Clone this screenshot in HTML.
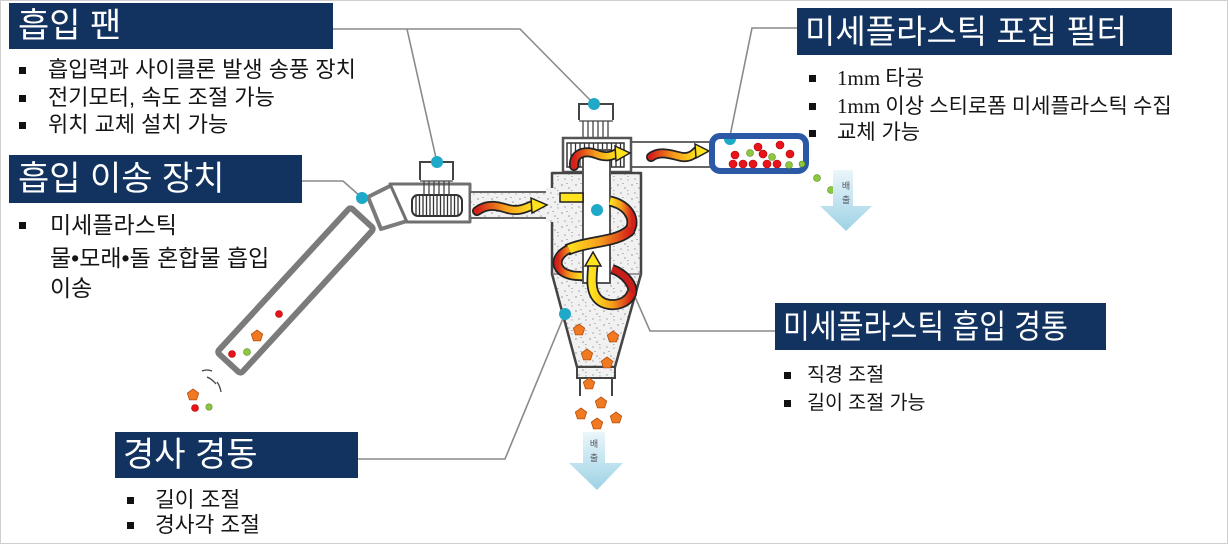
<!DOCTYPE html>
<html><head><meta charset="utf-8">
<style>
html,body{margin:0;padding:0;background:#fff;}
#c{position:relative;width:1228px;height:544px;overflow:hidden;background:#fff;font-family:"Liberation Sans","Noto Sans CJK KR",sans-serif;}
.box{position:absolute;background:#12335f;color:#fff;white-space:nowrap;display:flex;align-items:center;box-sizing:border-box;}
.box span{display:inline-block;line-height:1;}
.t{position:absolute;white-space:nowrap;color:#151515;}
.b{position:absolute;width:7px;height:7px;background:#111;}
</style></head><body><div id="c">
<svg width="1228" height="544" style="position:absolute;left:0;top:0" xmlns="http://www.w3.org/2000/svg">
<defs>
 <pattern id="sp" width="14" height="14" patternUnits="userSpaceOnUse">
  <rect width="14" height="14" fill="#f1f1f1"/>
  <circle cx="2" cy="3" r="0.9" fill="#a8a8a8"/>
  <circle cx="9" cy="6" r="0.8" fill="#999"/>
  <circle cx="5" cy="11" r="0.9" fill="#b5b5b5"/>
  <circle cx="12" cy="12" r="0.7" fill="#aaa"/>
  <rect x="6" y="1" width="2" height="1" fill="#bbb"/>
  <rect x="11" y="8" width="1.5" height="1" fill="#aaa"/>
 </pattern>
 <linearGradient id="ry" x1="0" y1="0" x2="1" y2="0"><stop offset="0" stop-color="#d41f1a"/><stop offset=".5" stop-color="#f59a1c"/><stop offset="1" stop-color="#ffe31c"/></linearGradient>
 <linearGradient id="yr" x1="0" y1="0" x2="1" y2="0"><stop offset="0" stop-color="#ffe31c"/><stop offset=".5" stop-color="#f5a01c"/><stop offset="1" stop-color="#d41f1a"/></linearGradient>
 <linearGradient id="blu" x1="0" y1="0" x2="0" y2="1"><stop offset="0" stop-color="#eaf6fa"/><stop offset="1" stop-color="#9dd2e5"/></linearGradient>
 <polygon id="pg" points="0,-6 5.7,-1.85 3.53,4.85 -3.53,4.85 -5.7,-1.85" fill="#f07a22" stroke="#b84d0c" stroke-width="0.8"/>
</defs>
<rect x="0.5" y="0.5" width="1227" height="543" fill="none" stroke="#cfcfcf" stroke-width="1"/>

<!-- connectors -->
<g stroke="#8a8a8a" stroke-width="1.6" fill="none">
 <polyline points="333,29 520,29 592,102"/>
 <line x1="407" y1="29" x2="436" y2="158"/>
 <polyline points="302,181 343,181 360,196"/>
 <polyline points="797,28 752,28 730,136"/>
 <polyline points="775,331 650,331 597,210"/>
 <polyline points="358,459 505,459 564,316"/>
</g>

<!-- suction tube -->
<rect x="-98.5" y="-16" width="197" height="32" rx="3" transform="translate(295.5,290.5) rotate(-47.4)" fill="#fff" stroke="#7b7b7b" stroke-width="6"/>
<!-- joint -->
<polygon points="368,197 392,185 407,221 381,229" fill="#fff" stroke="#7b7b7b" stroke-width="4" stroke-linejoin="round"/>
<!-- fan housing -->
<polygon points="390,184 470,184 470,222 407,222" fill="#fff" stroke="#707070" stroke-width="3" stroke-linejoin="round"/>
<rect x="412" y="195" width="50" height="21" rx="6" fill="#fff" stroke="#333" stroke-width="2"/>
<g stroke="#333" stroke-width="1.3">
 <line x1="416" y1="196" x2="416" y2="215"/><line x1="419.5" y1="196" x2="419.5" y2="215"/><line x1="423" y1="196" x2="423" y2="215"/><line x1="426.5" y1="196" x2="426.5" y2="215"/><line x1="430" y1="196" x2="430" y2="215"/><line x1="433.5" y1="196" x2="433.5" y2="215"/><line x1="437" y1="196" x2="437" y2="215"/><line x1="440.5" y1="196" x2="440.5" y2="215"/><line x1="444" y1="196" x2="444" y2="215"/><line x1="447.5" y1="196" x2="447.5" y2="215"/><line x1="451" y1="196" x2="451" y2="215"/><line x1="454.5" y1="196" x2="454.5" y2="215"/><line x1="458" y1="196" x2="458" y2="215"/>
</g>
<path d="M420,180 V162 H453 V180" fill="none" stroke="#444" stroke-width="2"/>
<g stroke="#444" stroke-width="1.3">
 <line x1="420" y1="181" x2="453" y2="181"/>
 <line x1="424" y1="181" x2="424" y2="195"/><line x1="429" y1="181" x2="429" y2="195"/><line x1="434" y1="181" x2="434" y2="195"/><line x1="439" y1="181" x2="439" y2="195"/><line x1="444" y1="181" x2="444" y2="195"/><line x1="449" y1="181" x2="449" y2="195"/>
</g>

<!-- pipe fan -> cyclone -->
<rect x="470" y="192" width="84" height="26" fill="url(#sp)" stroke="#666" stroke-width="2"/>

<!-- cyclone upper box & motor -->
<path d="M579,120 V104 H613 V120" fill="none" stroke="#444" stroke-width="2"/>
<g stroke="#444" stroke-width="1.3">
 <line x1="579" y1="121" x2="613" y2="121"/>
 <line x1="583" y1="121" x2="583" y2="138"/><line x1="588" y1="121" x2="588" y2="138"/><line x1="593" y1="121" x2="593" y2="138"/><line x1="598" y1="121" x2="598" y2="138"/><line x1="603" y1="121" x2="603" y2="138"/><line x1="608" y1="121" x2="608" y2="138"/>
</g>
<rect x="630" y="142" width="82" height="25" fill="#fff" stroke="#666" stroke-width="2"/>
<rect x="563" y="138" width="68" height="34" fill="#fff" stroke="#555" stroke-width="2.5"/>
<rect x="567" y="143" width="57" height="24" fill="#fff" stroke="#333" stroke-width="1.5"/>
<g stroke="#333" stroke-width="1.3">
 <line x1="571" y1="143" x2="571" y2="167"/><line x1="575.5" y1="143" x2="575.5" y2="167"/><line x1="580" y1="143" x2="580" y2="167"/><line x1="584.5" y1="143" x2="584.5" y2="167"/><line x1="589" y1="143" x2="589" y2="167"/><line x1="593.5" y1="143" x2="593.5" y2="167"/><line x1="598" y1="143" x2="598" y2="167"/><line x1="602.5" y1="143" x2="602.5" y2="167"/><line x1="607" y1="143" x2="607" y2="167"/><line x1="611.5" y1="143" x2="611.5" y2="167"/><line x1="616" y1="143" x2="616" y2="167"/><line x1="620.5" y1="143" x2="620.5" y2="167"/>
</g>

<!-- cyclone body -->
<path d="M552,173 H641 V274 L615,367 H577 L552,274 Z" fill="url(#sp)" stroke="#444" stroke-width="2.5" stroke-linejoin="round"/>
<line x1="552" y1="274" x2="641" y2="274" stroke="#666" stroke-width="1.2"/>
<rect x="577" y="367" width="38" height="11" fill="url(#sp)" stroke="#444" stroke-width="2"/>
<line x1="580" y1="378" x2="580" y2="396" stroke="#444" stroke-width="2"/>
<line x1="612" y1="378" x2="612" y2="396" stroke="#444" stroke-width="2"/>
<!-- notch at inlet -->
<rect x="546" y="188" width="8" height="34" fill="url(#sp)" stroke="none"/>
<rect x="583" y="150" width="27" height="133" fill="#fff" stroke="#555" stroke-width="2"/>

<!-- flow arrows -->
<g fill="none" stroke-linecap="round">
 <path d="M477,211 C488,203 498,206 508,209 C518,212 526,208 533,205" stroke="#222" stroke-width="10"/>
 <path d="M477,211 C488,203 498,206 508,209 C518,212 526,208 533,205" stroke="url(#ry)" stroke-width="6.5"/>
 <path d="M574,166 C573,153 585,150 596,154 C606,158 612,156 617,153" stroke="#222" stroke-width="10"/>
 <path d="M574,166 C573,153 585,150 596,154 C606,158 612,156 617,153" stroke="url(#ry)" stroke-width="6.5"/>
 <path d="M651,157 C660,150 672,155 682,157 C690,158 694,154 697,151" stroke="#222" stroke-width="10"/>
 <path d="M651,157 C660,150 672,155 682,157 C690,158 694,154 697,151" stroke="url(#ry)" stroke-width="6.5"/>
</g>
<polygon points="531,198 547,205 532,213" fill="#ffe31c" stroke="#222" stroke-width="1.5"/>
<polygon points="615,146 630,153 616,161" fill="#ffe31c" stroke="#222" stroke-width="1.5"/>
<polygon points="695,144 709,151 696,158" fill="#ffe31c" stroke="#222" stroke-width="1.5"/>

<!-- spiral -->
<g fill="none" stroke-linecap="butt">
 <rect x="560" y="193" width="23" height="9" fill="#ffe31c" stroke="#222" stroke-width="1.5"/>
 <path d="M610,201 C628,205 638,220 628,233" stroke="#222" stroke-width="11"/>
 <path d="M610,201 C628,205 638,220 628,233" stroke="url(#yr)" stroke-width="7.5"/>
 <path d="M631,229 C618,243 590,240 567,250" stroke="#222" stroke-width="12"/>
 <path d="M631,229 C618,243 590,240 567,250" stroke="url(#yr)" stroke-width="8.5"/>
 <path d="M569,249 C550,258 555,277 582,276" stroke="#222" stroke-width="10"/>
 <path d="M569,249 C550,258 555,277 582,276" stroke="url(#ry)" stroke-width="6.5"/>
 <path d="M612,269 C626,274 634,286 632,293" stroke="#222" stroke-width="10"/>
 <path d="M612,269 C626,274 634,286 632,293" stroke="#c81e1a" stroke-width="6.5"/>
 <path d="M632,292 C628,306 606,309 597,298 C590,290 592,276 593,264" stroke="#222" stroke-width="11"/>
 <path d="M632,292 C628,306 606,309 597,298 C590,290 592,276 593,264" stroke="url(#yr)" stroke-width="7.5"/>
</g>
<polygon points="585,266 593,252 601,266" fill="#ffe31c" stroke="#222" stroke-width="1.5"/>

<!-- filter -->
<rect x="712" y="136" width="94" height="35" rx="8" fill="#fff" stroke="#2b59a6" stroke-width="6"/>
<g stroke-width="0.6">
 <g fill="#e8141b" stroke="#a00">
  <circle cx="735" cy="155" r="4"/><circle cx="758" cy="147" r="4"/><circle cx="780" cy="145" r="4"/><circle cx="763" cy="154" r="4"/><circle cx="790" cy="154" r="4"/>
  <circle cx="733" cy="164" r="4"/><circle cx="743" cy="164" r="4"/><circle cx="753" cy="164" r="4"/><circle cx="767" cy="164" r="4"/><circle cx="777" cy="164" r="4"/>
 </g>
 <g fill="#8dc63f" stroke="#5a8a20">
  <circle cx="750" cy="153" r="3.5"/><circle cx="772" cy="157" r="3.5"/><circle cx="789" cy="165" r="3.5"/><circle cx="802" cy="164" r="3"/>
  <circle cx="817" cy="178" r="3.5"/><circle cx="831" cy="190" r="3.5"/>
 </g>
</g>

<!-- discharge arrows -->
<polygon points="833,170 853,170 853,206 872,206 846,231 820,206 833,206" fill="url(#blu)"/>
<text x="846" y="189" font-size="9" fill="#556" text-anchor="middle" font-family="Liberation Sans, Noto Sans CJK KR, sans-serif">배</text>
<text x="846" y="203" font-size="9" fill="#556" text-anchor="middle" font-family="Liberation Sans, Noto Sans CJK KR, sans-serif">출</text>
<polygon points="583,432 605,432 605,463 623,463 597,490 569,463 583,463" fill="url(#blu)"/>
<text x="594" y="447" font-size="9" fill="#556" text-anchor="middle" font-family="Liberation Sans, Noto Sans CJK KR, sans-serif">배</text>
<text x="594" y="461" font-size="9" fill="#556" text-anchor="middle" font-family="Liberation Sans, Noto Sans CJK KR, sans-serif">출</text>

<!-- cyclone pentagons -->
<use href="#pg" x="579" y="330"/><use href="#pg" x="613" y="337"/><use href="#pg" x="587" y="355"/><use href="#pg" x="607" y="363"/>
<use href="#pg" x="589" y="384"/><use href="#pg" x="601" y="403"/><use href="#pg" x="581" y="414"/><use href="#pg" x="616" y="418"/><use href="#pg" x="597" y="424"/>

<!-- tube particles -->
<g stroke-width="0.6">
 <circle cx="279" cy="314" r="3.5" fill="#e8141b" stroke="#a00"/>
 <circle cx="232" cy="354" r="3.5" fill="#e8141b" stroke="#a00"/>
 <circle cx="247" cy="352" r="3.5" fill="#8dc63f" stroke="#5a8a20"/>
 <circle cx="195" cy="408" r="3.5" fill="#e8141b" stroke="#a00"/>
 <circle cx="209" cy="407" r="3.2" fill="#8dc63f" stroke="#5a8a20"/>
</g>
<use href="#pg" x="257" y="336"/><use href="#pg" x="193" y="395"/>
<g stroke="#444" stroke-width="1.3" fill="none">
 <path d="M202,371 Q207,369 212,371"/>
 <path d="M207,377 Q212,379 216,384"/>
 <path d="M217,382 Q220,386 221,392"/>
</g>

<!-- cyan dots -->
<g fill="#1fa9c9">
 <circle cx="437" cy="162" r="6"/>
 <circle cx="362" cy="198" r="6"/>
 <circle cx="594" cy="104" r="6"/>
 <circle cx="597" cy="210" r="6"/>
 <circle cx="565" cy="314" r="6"/>
 <path d="M724,139 a6,6 0 0 0 12,0 Z"/>
</g>
</svg>

<!-- titles -->
<div class="box" style="left:9px;top:3px;width:324px;height:46px;padding-left:9px;font-size:34px;"><span>흡입 팬</span></div>
<div class="box" style="left:9px;top:155px;width:293px;height:48px;padding-left:9px;font-size:34px;"><span>흡입 이송 장치</span></div>
<div class="box" style="left:115px;top:432px;width:243px;height:46px;padding-left:8px;font-size:34px;"><span>경사 경동</span></div>
<div class="box" style="left:797px;top:8px;width:375px;height:47px;padding-left:8px;font-size:33px;"><span>미세플라스틱 포집 필터</span></div>
<div class="box" style="left:775px;top:303px;width:331px;height:47px;padding-left:8px;font-size:33px;"><span style="transform:scaleX(0.885);transform-origin:0 50%;">미세플라스틱 흡입 경통</span></div>

<!-- group 1 -->
<div class="b" style="left:19px;top:67px"></div><div class="t" style="left:48px;top:56px;font-size:22px;line-height:28px">흡입력과 사이클론 발생 송풍 장치</div>
<div class="b" style="left:19px;top:95px"></div><div class="t" style="left:48px;top:84px;font-size:22px;line-height:28px">전기모터, 속도 조절 가능</div>
<div class="b" style="left:19px;top:122px"></div><div class="t" style="left:48px;top:111px;font-size:22px;line-height:28px">위치 교체 설치 가능</div>

<!-- group 2 -->
<div class="b" style="left:19px;top:222px"></div><div class="t" style="left:50px;top:210px;font-size:23px;line-height:30px">미세플라스틱</div>
<div class="t" style="left:50px;top:243px;font-size:23px;line-height:30px">물•모래•돌 혼합물 흡입</div>
<div class="t" style="left:50px;top:273px;font-size:23px;line-height:30px">이송</div>

<!-- group 3 -->
<div class="b" style="left:127px;top:497px"></div><div class="t" style="left:155px;top:486px;font-size:21.5px;line-height:28px">길이 조절</div>
<div class="b" style="left:127px;top:522px"></div><div class="t" style="left:155px;top:511px;font-size:21.5px;line-height:28px">경사각 조절</div>

<!-- group 4 -->
<div class="b" style="left:809px;top:75px"></div><div class="t" style="left:837px;top:64px;font-size:21px;line-height:28px;font-family:'Liberation Serif','Noto Sans CJK KR',serif">1mm 타공</div>
<div class="b" style="left:809px;top:103px"></div><div class="t" style="left:837px;top:92px;font-size:21px;line-height:28px;font-family:'Liberation Serif','Noto Sans CJK KR',serif">1mm 이상 스티로폼 미세플라스틱 수집</div>
<div class="b" style="left:809px;top:130px"></div><div class="t" style="left:837px;top:119px;font-size:21px;line-height:28px">교체 가능</div>

<!-- group 5 -->
<div class="b" style="left:784px;top:372px"></div><div class="t" style="left:807px;top:362px;font-size:19.5px;line-height:26px">직경 조절</div>
<div class="b" style="left:784px;top:400px"></div><div class="t" style="left:807px;top:390px;font-size:19.5px;line-height:26px">길이 조절 가능</div>
</div></body></html>
